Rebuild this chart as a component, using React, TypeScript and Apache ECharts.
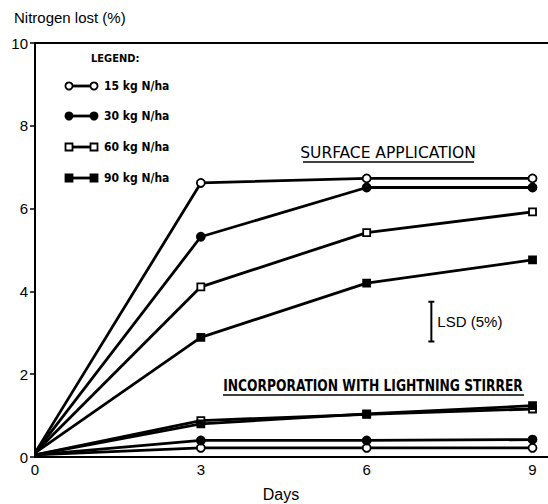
import React, { useEffect, useRef } from "react";
import * as echarts from "echarts";

const days = [0, 3, 6, 9];
const surface15 = [0.1, 6.62, 6.73, 6.73];
const surface30 = [0.1, 5.32, 6.51, 6.51];
const surface60 = [0.1, 4.11, 5.42, 5.92];
const surface90 = [0.1, 2.89, 4.2, 4.76];
const incorp15 = [0.05, 0.22, 0.22, 0.22];
const incorp30 = [0.05, 0.4, 0.4, 0.42];
const incorp60 = [0.05, 0.88, 1.03, 1.16];
const incorp90 = [0.05, 0.8, 1.04, 1.24];
const legendLabels = ["15 kg N/ha", "30 kg N/ha", "60 kg N/ha", "90 kg N/ha"];
const yTicks = [0, 2, 4, 6, 8, 10];
const lsd = [[7.17, 2.79, 3.75]];

const NARROW = "'Liberation Sans Narrow', 'DejaVu Sans Condensed', 'Liberation Sans', sans-serif";
const MAIN = "'Liberation Sans', Arial, sans-serif";

type Sym = { symbol: string; fill: string };
const syms: Sym[] = [
  { symbol: "circle", fill: "#fff" },
  { symbol: "circle", fill: "#000" },
  { symbol: "rect", fill: "#fff" },
  { symbol: "rect", fill: "#000" },
];

function makeSeries(name: string, values: number[], s: Sym) {
  return {
    name,
    type: "line",
    xAxisIndex: 0,
    yAxisIndex: 0,
    symbol: s.symbol,
    symbolSize: s.symbol === "rect" ? 7 : 8,
    showAllSymbol: true,
    itemStyle: { color: s.fill, borderColor: "#000", borderWidth: 1.8 },
    lineStyle: { color: "#000", width: 2.8 },
    data: values.map((v, i) =>
      i === 0 ? { value: [days[i], v], symbol: "none" } : { value: [days[i], v] }
    ),
  };
}

export default function App() {
  const ref = useRef<HTMLDivElement>(null);
  useEffect(() => {
    if (!ref.current) return;
    const chart = echarts.init(ref.current, null, { renderer: "svg" });

    const legendRowsY = [86, 116, 147, 178];
    const legendGraphics: any[] = [
      {
        type: "text",
        left: 91,
        top: 53,
        style: { text: "LEGEND:", font: `bold 11px ${NARROW}`, fill: "#000" },
      },
    ];
    legendRowsY.forEach((y, i) => {
      const s = syms[i];
      legendGraphics.push({
        type: "line",
        shape: { x1: 69, y1: y, x2: 94, y2: y },
        style: { stroke: "#000", lineWidth: 2.8 },
      });
      [69, 94].forEach((cx) => {
        if (s.symbol === "circle") {
          legendGraphics.push({
            type: "circle",
            shape: { cx, cy: y, r: 3.6 },
            style: { fill: s.fill, stroke: "#000", lineWidth: 1.8 },
          });
        } else {
          legendGraphics.push({
            type: "rect",
            shape: { x: cx - 3.5, y: y - 3.5, width: 7, height: 7 },
            style: { fill: s.fill, stroke: "#000", lineWidth: 1.8 },
          });
        }
      });
      legendGraphics.push({
        type: "text",
        x: 104,
        y,
        style: {
          text: legendLabels[i],
          font: `bold 12px ${NARROW}`,
          fill: "#000",
          verticalAlign: "middle",
        },
      });
    });

    const option: any = {
      animation: false,
      backgroundColor: "#fff",
      grid: { left: 35, right: 0, top: 43, bottom: 47 },
      xAxis: [
        {
          type: "value",
          min: 0,
          max: 9.28,
          interval: 3,
          axisLine: { show: true, lineStyle: { color: "#000", width: 2 } },
          axisTick: { show: false },
          splitLine: { show: false },
          axisLabel: {
            color: "#000",
            fontSize: 15,
            fontFamily: MAIN,
            margin: 5,
            showMaxLabel: false,
            formatter: (v: number) => (v % 3 === 0 ? String(v) : ""),
          },
        },
        {
          type: "value",
          position: "top",
          min: 0,
          max: 9.28,
          axisLine: { show: true, lineStyle: { color: "#000", width: 2 } },
          axisTick: { show: false },
          axisLabel: { show: false },
          splitLine: { show: false },
        },
      ],
      yAxis: {
        type: "value",
        min: 0,
        max: 10,
        interval: 2,
        axisLine: { show: true, lineStyle: { color: "#000", width: 2 } },
        axisTick: { show: true, inside: false, length: 5, lineStyle: { color: "#000", width: 1.5 } },
        splitLine: { show: false },
        axisLabel: {
          color: "#000",
          fontSize: 15,
          fontFamily: MAIN,
          margin: 7,
          formatter: (v: number) => (yTicks.includes(v) ? String(v) : ""),
        },
      },
      series: [
        makeSeries(legendLabels[0] + " surface", surface15, syms[0]),
        makeSeries(legendLabels[1] + " surface", surface30, syms[1]),
        makeSeries(legendLabels[2] + " surface", surface60, syms[2]),
        makeSeries(legendLabels[3] + " surface", surface90, syms[3]),
        makeSeries(legendLabels[0] + " incorporation", incorp15, syms[0]),
        makeSeries(legendLabels[1] + " incorporation", incorp30, syms[1]),
        makeSeries(legendLabels[2] + " incorporation", incorp60, syms[2]),
        makeSeries(legendLabels[3] + " incorporation", incorp90, syms[3]),
        {
          name: "LSD (5%)",
          type: "custom",
          data: lsd,
          renderItem: (params: any, api: any) => {
            const top = api.coord([api.value(0), api.value(2)]);
            const bot = api.coord([api.value(0), api.value(1)]);
            return {
              type: "group",
              children: [
                {
                  type: "line",
                  shape: { x1: top[0], y1: top[1], x2: bot[0], y2: bot[1] },
                  style: { stroke: "#000", lineWidth: 2 },
                },
                {
                  type: "line",
                  shape: { x1: top[0] - 3, y1: top[1], x2: top[0] + 3, y2: top[1] },
                  style: { stroke: "#000", lineWidth: 2 },
                },
                {
                  type: "line",
                  shape: { x1: bot[0] - 3, y1: bot[1], x2: bot[0] + 3, y2: bot[1] },
                  style: { stroke: "#000", lineWidth: 2 },
                },
                {
                  type: "text",
                  x: top[0] + 6,
                  y: (top[1] + bot[1]) / 2,
                  style: {
                    text: "LSD (5%)",
                    font: `15px ${MAIN}`,
                    fill: "#000",
                    verticalAlign: "middle",
                  },
                },
              ],
            };
          },
        },
      ],
      graphic: [
        {
          type: "text",
          left: 14,
          top: 10,
          style: { text: "Nitrogen lost (%)", font: `15px ${MAIN}`, fill: "#000" },
        },
        {
          type: "text",
          x: 281,
          y: 494,
          style: {
            text: "Days",
            font: `16px ${MAIN}`,
            fill: "#000",
            align: "center",
            verticalAlign: "middle",
          },
        },
        {
          type: "text",
          x: 388,
          y: 153,
          scaleX: 1.15,
          style: {
            text: "SURFACE APPLICATION",
            font: `15px ${NARROW}`,
            fill: "#000",
            align: "center",
            verticalAlign: "middle",
          },
        },
        {
          type: "line",
          shape: { x1: 303, y1: 162, x2: 474, y2: 162 },
          style: { stroke: "#000", lineWidth: 1.5 },
        },
        {
          type: "text",
          x: 373,
          y: 386,
          scaleX: 0.855,
          style: {
            text: "INCORPORATION WITH LIGHTNING STIRRER",
            font: `bold 16px ${NARROW}`,
            fill: "#000",
            align: "center",
            verticalAlign: "middle",
          },
        },
        {
          type: "line",
          shape: { x1: 223, y1: 395, x2: 524, y2: 395 },
          style: { stroke: "#000", lineWidth: 1.5 },
        },
        ...legendGraphics,
      ],
    };
    chart.setOption(option);
    return () => chart.dispose();
  }, []);
  return (
    <div
      ref={ref}
      style={{ position: "absolute", left: 0, top: 0, width: 548, height: 504, background: "#fff" }}
    />
  );
}
